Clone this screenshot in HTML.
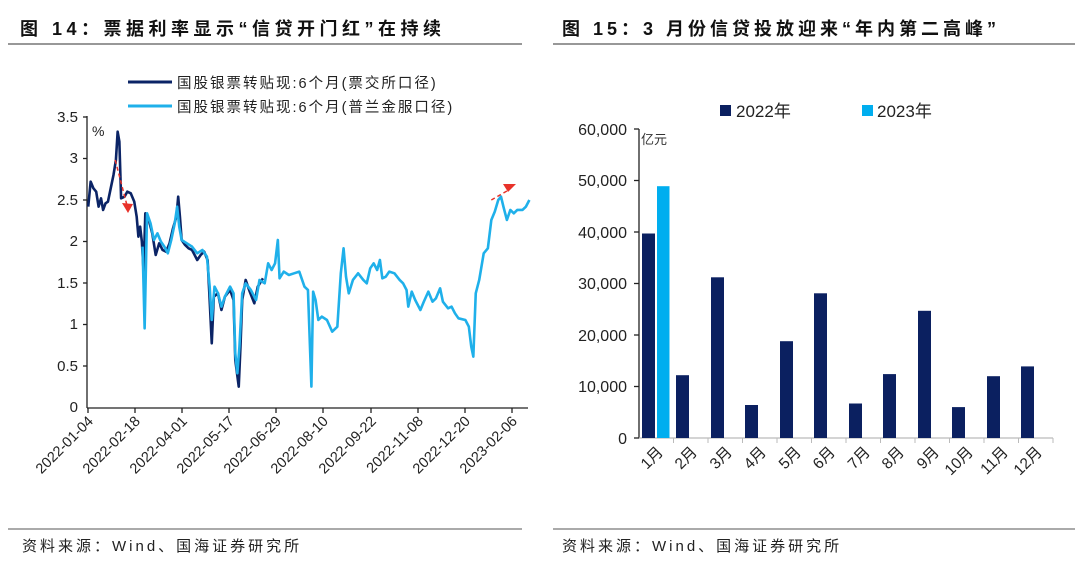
<!DOCTYPE html>
<html><head><meta charset="utf-8"><style>
body{margin:0;width:1080px;height:562px;background:#fff;overflow:hidden;font-family:"Liberation Sans","Noto Sans CJK SC",sans-serif;}
svg{position:absolute;left:0;top:0}
</style></head><body>
<svg width="1080" height="562" viewBox="0 0 1080 562" font-family="Liberation Sans, Noto Sans CJK SC, sans-serif">
<!-- titles -->
<text x="20" y="35" font-size="18" font-weight="bold" fill="#111" letter-spacing="4.5">图 14：票据利率显示“信贷开门红”在持续</text>
<text x="562" y="35" font-size="18" font-weight="bold" fill="#111" letter-spacing="4">图 15：3 月份信贷投放迎来“年内第二高峰”</text>
<line x1="8" y1="44" x2="522" y2="44" stroke="#777" stroke-width="1.5"/>
<line x1="553" y1="44" x2="1075" y2="44" stroke="#777" stroke-width="1.5"/>
<line x1="8" y1="529" x2="522" y2="529" stroke="#555" stroke-width="1"/>
<line x1="553" y1="529" x2="1075" y2="529" stroke="#555" stroke-width="1"/>
<text x="22" y="551" font-size="15" fill="#222" letter-spacing="3">资料来源：Wind、国海证券研究所</text>
<text x="562" y="551" font-size="15" fill="#222" letter-spacing="3">资料来源：Wind、国海证券研究所</text>

<!-- LEFT CHART -->
<line x1="128" y1="82" x2="172" y2="82" stroke="#0b2466" stroke-width="3"/>
<text x="177" y="88" font-size="14.5" fill="#222" letter-spacing="2">国股银票转贴现:6个月(票交所口径)</text>
<line x1="128" y1="106" x2="172" y2="106" stroke="#1fb0ea" stroke-width="3"/>
<text x="177" y="112" font-size="14.5" fill="#222" letter-spacing="2">国股银票转贴现:6个月(普兰金服口径)</text>
<g font-size="15" fill="#222" text-anchor="end">
<text x="78" y="122">3.5</text><text x="78" y="163">3</text><text x="78" y="205">2.5</text>
<text x="78" y="246">2</text><text x="78" y="288">1.5</text><text x="78" y="329">1</text>
<text x="78" y="371">0.5</text><text x="78" y="412">0</text>
</g>
<text x="92" y="136" font-size="14" fill="#222">%</text>
<g stroke="#222" stroke-width="1.3">
<line x1="87" y1="116" x2="87" y2="408"/>
<line x1="87" y1="408" x2="528" y2="408"/>
<line x1="83" y1="117" x2="87" y2="117"/><line x1="83" y1="158.5" x2="87" y2="158.5"/><line x1="83" y1="200" x2="87" y2="200"/><line x1="83" y1="241.5" x2="87" y2="241.5"/><line x1="83" y1="283" x2="87" y2="283"/><line x1="83" y1="324.5" x2="87" y2="324.5"/><line x1="83" y1="366" x2="87" y2="366"/>
<line x1="88" y1="408" x2="88" y2="413"/><line x1="135" y1="408" x2="135" y2="413"/><line x1="182" y1="408" x2="182" y2="413"/><line x1="229" y1="408" x2="229" y2="413"/><line x1="276" y1="408" x2="276" y2="413"/><line x1="323" y1="408" x2="323" y2="413"/><line x1="371" y1="408" x2="371" y2="413"/><line x1="418" y1="408" x2="418" y2="413"/><line x1="465" y1="408" x2="465" y2="413"/><line x1="512" y1="408" x2="512" y2="413"/>
</g>
<g font-size="14.5" fill="#222" text-anchor="end">
<text transform="translate(94,422) rotate(-45)">2022-01-04</text>
<text transform="translate(141,422) rotate(-45)">2022-02-18</text>
<text transform="translate(188,422) rotate(-45)">2022-04-01</text>
<text transform="translate(235,422) rotate(-45)">2022-05-17</text>
<text transform="translate(282,422) rotate(-45)">2022-06-29</text>
<text transform="translate(329,422) rotate(-45)">2022-08-10</text>
<text transform="translate(377,422) rotate(-45)">2022-09-22</text>
<text transform="translate(424,422) rotate(-45)">2022-11-08</text>
<text transform="translate(471,422) rotate(-45)">2022-12-20</text>
<text transform="translate(518,422) rotate(-45)">2023-02-06</text>
</g>
<g transform="translate(0,60) scale(0.346,0.3333)" fill="none" stroke-linejoin="round">
<polyline vector-effect="non-scaling-stroke" stroke="#0b2466" stroke-width="2.6" points="255,440 262,365 270,385 278,395 285,440 292,415 298,450 305,430 312,425 320,385 328,345 335,300 340,215 345,245 350,415 360,410 368,395 378,400 388,425 395,470 400,530 405,500 410,545 415,635 420,460 430,480 440,520 450,585 460,550 470,570 480,575 490,550 500,505 510,470 515,410 520,470 525,540 535,555 545,565 555,570 570,600 580,585 590,575 600,600 605,700 612,850 618,710 630,700 640,750 650,710 665,690 675,720 680,900 690,980 695,860 700,720 710,660 720,690 735,730 745,680 760,655"/>
<polyline vector-effect="non-scaling-stroke" stroke="#1fb0ea" stroke-width="2.6" points="412,560 418,805 425,460 435,490 445,540 455,520 465,545 475,560 485,580 495,540 505,490 512,440 518,500 525,540 540,550 555,560 570,580 585,570 598,590 606,680 612,780 620,680 630,700 640,740 650,710 665,680 675,700 680,880 686,940 692,860 700,700 710,670 725,690 740,720 750,660 765,670 775,610 785,630 795,610 803,540 808,655 820,635 835,645 850,640 865,635 880,680 890,690 900,980 905,695 912,720 920,780 930,770 945,780 960,815 975,800 985,640 993,565 1000,650 1008,700 1020,660 1035,640 1050,660 1060,670 1070,625 1080,610 1090,630 1098,600 1105,655 1115,650 1125,635 1140,640 1155,660 1165,670 1175,690 1180,740 1190,695 1200,720 1215,750 1225,725 1238,695 1250,725 1260,715 1272,685 1280,725 1295,745 1305,740 1315,760 1325,775 1345,780 1355,800 1362,860 1368,890 1375,700 1385,660 1398,580 1410,565 1420,480 1430,455 1440,420 1448,410 1455,440 1465,480 1475,450 1485,460 1495,450 1510,450 1520,440 1530,420"/>
<line vector-effect="non-scaling-stroke" x1="333" y1="300" x2="368" y2="440" stroke="#e8322a" stroke-width="1.5" stroke-dasharray="4,3"/>
<line vector-effect="non-scaling-stroke" x1="1420" y1="420" x2="1470" y2="390" stroke="#e8322a" stroke-width="1.5" stroke-dasharray="4,3"/>
</g>
<polygon points="122,203 133,204 128,213" fill="#e8322a"/>
<polygon points="503,184 516,184 508,192" fill="#e8322a"/>

<!-- RIGHT CHART -->
<rect x="720" y="105" width="11" height="11" fill="#0b2060"/>
<text x="736" y="117" font-size="17" fill="#222">2022年</text>
<rect x="862" y="105" width="11" height="11" fill="#00aeef"/>
<text x="877" y="117" font-size="17" fill="#222">2023年</text>
<g font-size="16" fill="#222" text-anchor="end">
<text x="627" y="135">60,000</text><text x="627" y="186">50,000</text><text x="627" y="238">40,000</text>
<text x="627" y="289">30,000</text><text x="627" y="341">20,000</text><text x="627" y="392">10,000</text>
<text x="627" y="444">0</text>
</g>
<text x="641" y="144" font-size="13" fill="#333">亿元</text>
<g stroke="#222" stroke-width="1.3">
<line x1="639" y1="129" x2="639" y2="438"/>
<line x1="639" y1="438" x2="1053" y2="438" stroke="#bbb"/>
<line x1="634" y1="129" x2="639" y2="129"/><line x1="634" y1="180.5" x2="639" y2="180.5"/><line x1="634" y1="232" x2="639" y2="232"/><line x1="634" y1="283.5" x2="639" y2="283.5"/><line x1="634" y1="335" x2="639" y2="335"/><line x1="634" y1="386.5" x2="639" y2="386.5"/><line x1="634" y1="438" x2="639" y2="438"/>
</g>
<g stroke="#bbb" stroke-width="1">
<line x1="673.5" y1="438" x2="673.5" y2="443"/><line x1="708" y1="438" x2="708" y2="443"/><line x1="742.5" y1="438" x2="742.5" y2="443"/><line x1="777" y1="438" x2="777" y2="443"/><line x1="811.5" y1="438" x2="811.5" y2="443"/><line x1="846" y1="438" x2="846" y2="443"/><line x1="880.5" y1="438" x2="880.5" y2="443"/><line x1="915" y1="438" x2="915" y2="443"/><line x1="949.5" y1="438" x2="949.5" y2="443"/><line x1="984" y1="438" x2="984" y2="443"/><line x1="1018.5" y1="438" x2="1018.5" y2="443"/><line x1="1053" y1="438" x2="1053" y2="443"/>
</g>
<g fill="#0b2060">
<rect x="642" y="233.5" width="13" height="204.5"/>
<rect x="676" y="375.2" width="13" height="62.8"/>
<rect x="711" y="277.3" width="13" height="160.7"/>
<rect x="745" y="405" width="13" height="33"/>
<rect x="780" y="341.2" width="13" height="96.8"/>
<rect x="814" y="293.3" width="13" height="144.7"/>
<rect x="849" y="403.5" width="13" height="34.5"/>
<rect x="883" y="374.1" width="13" height="63.9"/>
<rect x="918" y="310.8" width="13" height="127.2"/>
<rect x="952" y="407.1" width="13" height="30.9"/>
<rect x="987" y="376.2" width="13" height="61.8"/>
<rect x="1021" y="366.4" width="13" height="71.6"/>
</g>
<rect x="657" y="186.2" width="12.5" height="251.8" fill="#00aeef"/>
<g font-size="15.5" fill="#222" text-anchor="end">
<text transform="translate(664,453) rotate(-45)">1月</text>
<text transform="translate(698,453) rotate(-45)">2月</text>
<text transform="translate(733,453) rotate(-45)">3月</text>
<text transform="translate(767,453) rotate(-45)">4月</text>
<text transform="translate(802,453) rotate(-45)">5月</text>
<text transform="translate(836,453) rotate(-45)">6月</text>
<text transform="translate(871,453) rotate(-45)">7月</text>
<text transform="translate(905,453) rotate(-45)">8月</text>
<text transform="translate(940,453) rotate(-45)">9月</text>
<text transform="translate(974,453) rotate(-45)">10月</text>
<text transform="translate(1009,453) rotate(-45)">11月</text>
<text transform="translate(1043,453) rotate(-45)">12月</text>
</g>
</svg>
</body></html>
